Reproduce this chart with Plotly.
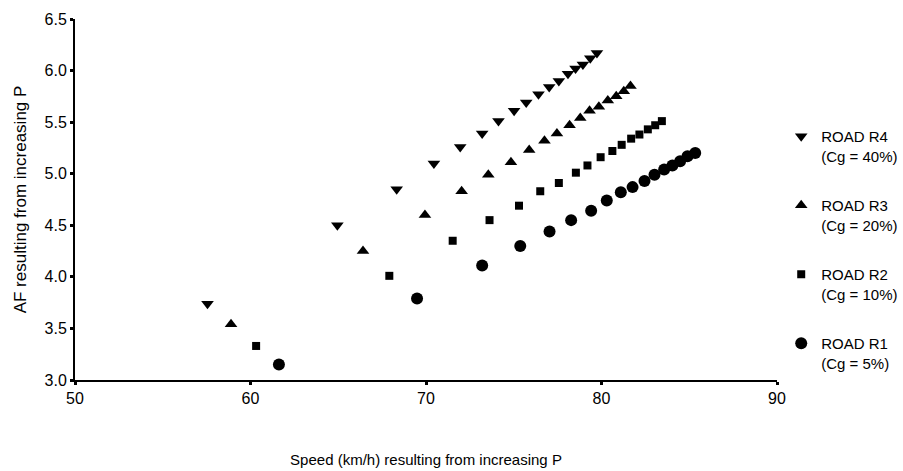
import plotly.graph_objects as go

# ---- data ----
r4_speed = [57.55, 64.95, 68.33, 70.45, 71.95, 73.2, 74.13, 75.02, 75.71, 76.41, 77.02, 77.57, 78.09, 78.52, 78.94, 79.36, 79.74]
r4_af = [3.74, 4.50, 4.85, 5.10, 5.26, 5.39, 5.51, 5.61, 5.69, 5.77, 5.84, 5.90, 5.97, 6.02, 6.06, 6.12, 6.17]

r3_speed = [58.89, 66.41, 69.94, 72.03, 73.55, 74.84, 75.88, 76.75, 77.46, 78.18, 78.79, 79.32, 79.85, 80.36, 80.84, 81.27, 81.65]
r3_af = [3.54, 4.25, 4.60, 4.83, 4.99, 5.11, 5.23, 5.32, 5.39, 5.47, 5.54, 5.61, 5.65, 5.71, 5.75, 5.80, 5.85]

r2_speed = [60.32, 67.91, 71.52, 73.62, 75.3, 76.51, 77.57, 78.54, 79.2, 79.95, 80.62, 81.15, 81.69, 82.16, 82.64, 83.06, 83.44]
r2_af = [3.33, 4.01, 4.35, 4.55, 4.69, 4.83, 4.91, 5.01, 5.08, 5.16, 5.22, 5.28, 5.34, 5.38, 5.43, 5.47, 5.51]

r1_speed = [61.62, 69.49, 73.2, 75.37, 77.04, 78.27, 79.41, 80.3, 81.1, 81.77, 82.45, 83.02, 83.57, 84.04, 84.48, 84.9, 85.34]
r1_af = [3.15, 3.79, 4.11, 4.30, 4.44, 4.55, 4.64, 4.74, 4.82, 4.87, 4.93, 4.99, 5.04, 5.08, 5.12, 5.17, 5.20]

series_names = ["ROAD R4<br>(Cg = 40%)", "ROAD R3<br>(Cg = 20%)", "ROAD R2<br>(Cg = 10%)", "ROAD R1<br>(Cg = 5%)"]
x_ticks = [50, 60, 70, 80, 90]
y_ticks = [3.0, 3.5, 4.0, 4.5, 5.0, 5.5, 6.0, 6.5]

FONT = "Liberation Sans, Arial, sans-serif"

series = [
    (r4_speed, r4_af, series_names[0], "triangle-down", 11),
    (r3_speed, r3_af, series_names[1], "triangle-up", 11),
    (r2_speed, r2_af, series_names[2], "square", 8),
    (r1_speed, r1_af, series_names[3], "circle", 12),
]

fig = go.Figure()
for i, (xs, ys, name, sym, sz) in enumerate(series):
    fig.add_trace(go.Scatter(
        x=xs, y=ys, mode="markers", name=name, legendgroup=f"g{i}",
        marker=dict(symbol=sym, size=sz, color="black", line=dict(width=0)),
    ))

axis_common = dict(
    showline=True, linecolor="black", linewidth=2,
    ticks="outside", ticklen=3, tickwidth=3, tickcolor="black",
    showgrid=False, zeroline=False, automargin=False,
    tickfont=dict(family=FONT, size=16, color="black"),
)

fig.update_layout(
    width=903, height=471,
    margin=dict(l=75, r=126, t=19, b=91, autoexpand=False),
    plot_bgcolor="white", paper_bgcolor="white",
    font=dict(family=FONT, size=16, color="black"),
    xaxis=dict(range=[50, 90], tickvals=x_ticks, ticktext=[str(v) for v in x_ticks],
               title=dict(text="Speed (km/h) resulting from increasing P",
                          font=dict(family=FONT, size=15, color="black"), standoff=48),
               **axis_common),
    yaxis=dict(range=[3.0, 6.5], tickvals=y_ticks, ticktext=[f"{v:.1f}" for v in y_ticks],
               title=dict(text="AF resulting from increasing P",
                          font=dict(family=FONT, size=17, color="black"), standoff=14),
               **axis_common),
    legend=dict(x=1.006, y=0.72, xanchor="left", yanchor="top",
                font=dict(family=FONT, size=15, color="black"),
                valign="top", tracegroupgap=27, bgcolor="rgba(0,0,0,0)"),
    showlegend=True,
)

fig.write_html(
    "out.html",
    config={"displayModeBar": False},
    post_script="document.body.style.margin='0';document.body.style.overflow='hidden';",
)
